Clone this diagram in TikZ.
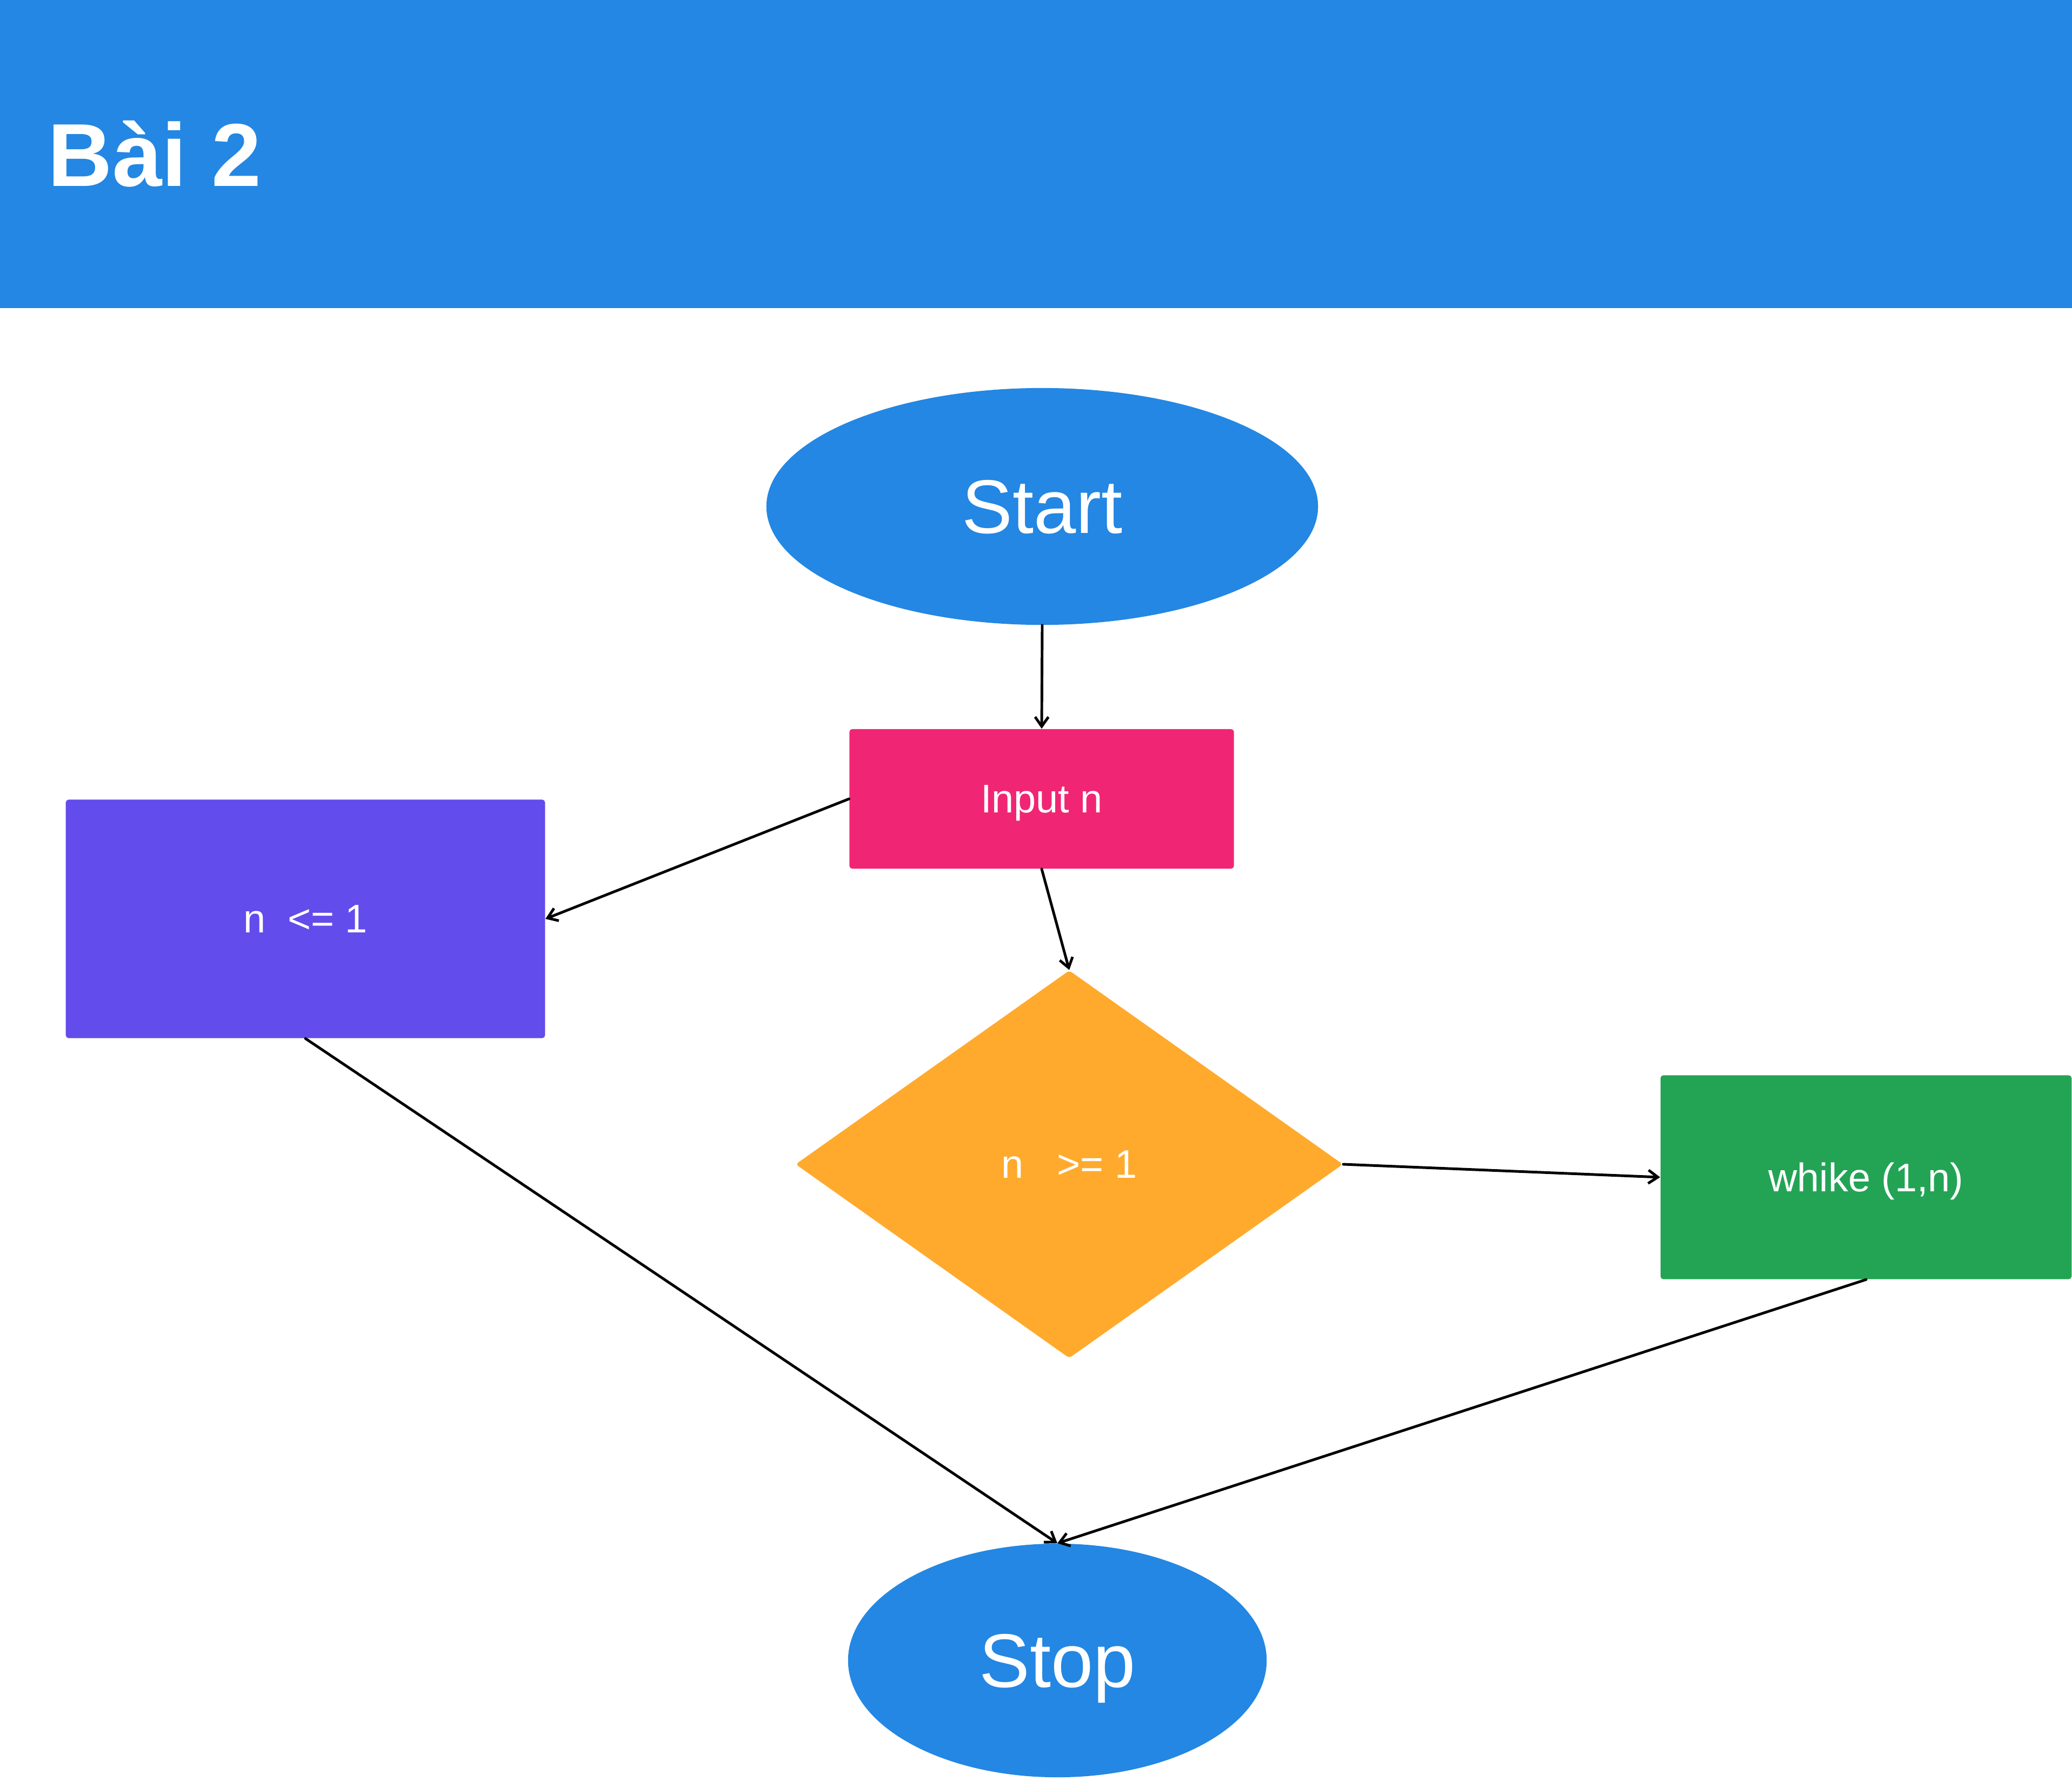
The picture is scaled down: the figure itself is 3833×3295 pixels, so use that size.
\documentclass[tikz,border=0pt]{standalone}
\usepackage{fontspec}
\setmainfont{Liberation Sans}
\usetikzlibrary{shapes.geometric,arrows.meta}
\definecolor{hdrblue}{RGB}{35,135,227}
\definecolor{inpink}{RGB}{240,38,117}
\definecolor{lepurple}{RGB}{98,76,235}
\definecolor{decorange}{RGB}{255,170,45}
\definecolor{whgreen}{RGB}{35,164,85}
\begin{document}
\begin{tikzpicture}[x=0.01cm,y=-0.01cm,
  term/.style={ellipse, fill=hdrblue, text=white, inner sep=0pt, text depth=0pt, font=\fontsize{40}{48}\selectfont},
  proc/.style={rectangle, rounded corners=1.5pt, inner sep=0pt, text depth=0pt, text=white, font=\fontsize{21}{25}\selectfont},
  dec/.style={diamond, rounded corners=1.5pt, inner sep=0pt, text depth=0pt, fill=decorange, text=white, font=\fontsize{21}{25}\selectfont},
  conn/.style={draw=black, line width=1.4pt, line cap=round, -{Straight Barb[length=5pt,width=7pt]}}]
\useasboundingbox (0,0) rectangle (3833,3295);
\fill[white] (0,0) rectangle (3833,3295);
\fill[hdrblue] (0,0) rectangle (3833,570);
\node[anchor=base west, text=white, inner sep=0pt, font=\bfseries\fontsize{47}{56}\selectfont] (title) at (88,345) {Bài 2};
\node[term, minimum width=10.20cm, minimum height=4.38cm] (start) at (1928,937) {Start};
\node[proc, fill=inpink, minimum width=7.11cm, minimum height=2.58cm] (input) at (1927,1478) {Input n};
\node[proc, fill=lepurple, minimum width=8.86cm, minimum height=4.41cm] (le) at (565,1700) {n\ \ <= 1};
\node[dec, minimum width=10.12cm, minimum height=7.17cm] (dec) at (1978,2154) {n\ \ \ >= 1};
\node[proc, fill=whgreen, minimum width=7.60cm, minimum height=3.77cm] (wh) at (3452,2178) {whike (1,n)};
\node[term, minimum width=7.74cm, minimum height=4.32cm] (stop) at (1956,3072) {Stop};
\draw[conn] (start.south) -- (input.north);
\draw[conn] (input.west) -- (le.east);
\draw[conn] (input.south) -- (dec.north);
\draw[conn] (dec.east) -- (wh.west);
\draw[conn] (le.south) -- (stop.north);
\draw[conn] (wh.south) -- (stop.north);
\end{tikzpicture}
\end{document}
